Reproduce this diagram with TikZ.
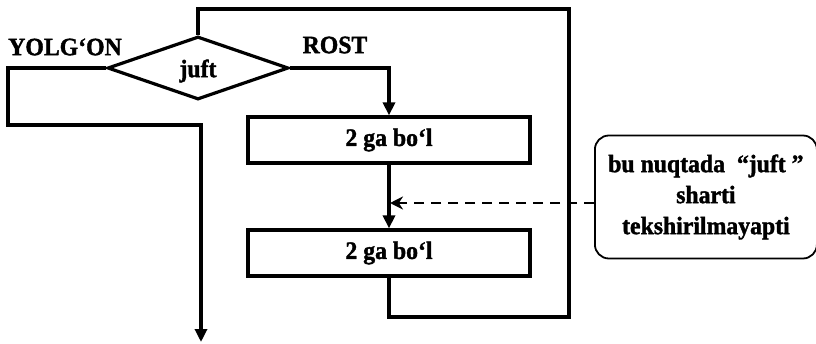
\documentclass[tikz,border=0pt]{standalone}
\usepackage{fontspec}
\setmainfont[FakeStretch=0.95,FakeBold=1.5]{Liberation Serif}
\usetikzlibrary{arrows.meta,shapes.geometric}
\tikzset{
  flow/.style={line width=3.2pt},
  box/.style={draw,line width=3.2pt,minimum width=282pt,minimum height=46pt,inner sep=0pt,font=\fontsize{25}{26}\selectfont\bfseries},
  lbl/.style={font=\fontsize{25}{26}\selectfont\bfseries,inner sep=0pt},
  tip/.style={-{Triangle[length=13pt,width=12pt]}},
}
\begin{document}
\begin{tikzpicture}[x=1pt,y=-1pt]
\useasboundingbox (0,0) rectangle (816,343);
% diamond
\node[draw,line width=3.2pt,diamond,aspect=2.85,minimum width=181pt,minimum height=63pt,inner sep=0pt] (d) at (198,68) {};
\node[lbl] (dt) at (198,71) {juft};
\node[box] (b1) at (389,140) {2 ga bo‘l};
\node[box] (b2) at (389,253) {2 ga bo‘l};
\node[draw,line width=1.8pt,rounded corners=14pt,minimum width=222pt,minimum height=123pt,inner sep=0pt,anchor=west,align=center,font=\fontsize{25}{31}\selectfont\bfseries] (c) at (594,197) {bu nuqtada \ “juft ”\\sharti\\tekshirilmayapti};
\node[lbl,anchor=center] (yl) at (65,47) {YOLG‘ON};
\node[lbl,anchor=center] (rl) at (335,45) {ROST};
% loop from box2 back to the diamond
\coordinate (c1) at (569,9);
\coordinate (c2) at (389,317);
\draw[flow] (b2.south) -- (c2) -- (c1 |- c2) -- (c1) -- (d.north |- c1) -- (d.north);
% ROST branch
\draw[flow,tip] (d.east) -- (b1.north |- d.east) -- (b1.north);
\draw[flow,tip] (b1.south) -- (b2.north);
% YOLG'ON branch
\coordinate (e) at (201,342);
\draw[flow,tip] (d.west) -- (8,68) -- (8,125) -- (e |- 0,125) -- (e);
% dashed pointer
\coordinate (p) at (390,203);
\draw[line width=2.8pt,dash pattern=on 10pt off 7pt,-{Stealth[length=13pt,width=13pt]}] (c.west |- p) -- (p);
\end{tikzpicture}
\end{document}
